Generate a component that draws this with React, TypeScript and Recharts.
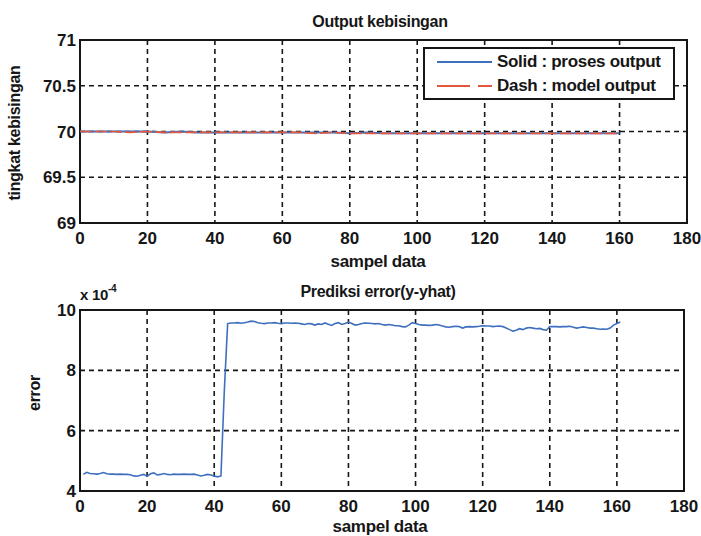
import React from 'react';
import {
  LineChart,
  Line,
  XAxis,
  YAxis,
  CartesianGrid,
  ReferenceArea,
  Legend,
} from 'recharts';

// sample numbers on the x axis
const xTicks = [0, 20, 40, 60, 80, 100, 120, 140, 160, 180];

// top plot: output kebisingan
const outputTicks = [69, 69.5, 70, 70.5, 71];
const outputSamples = [
  0, 5, 10, 15, 20, 25, 30, 35, 40, 45, 50, 55, 60, 65, 70, 75, 80,
  85, 90, 95, 100, 105, 110, 115, 120, 125, 130, 135, 140, 145, 150, 155, 160,
];
const prosesOutput = [
  70.0, 70.0, 70.0, 70.0, 70.0, 69.99, 70.0, 69.99, 69.99, 69.99, 69.99, 69.99, 69.99, 69.99, 69.99, 69.99, 69.98,
  69.99, 69.98, 69.98, 69.98, 69.98, 69.98, 69.98, 69.98, 69.98, 69.98, 69.98, 69.98, 69.98, 69.98, 69.98, 69.98,
];
const modelOutput = [
  70.0, 70.0, 70.0, 69.99, 70.0, 69.99, 69.99, 69.99, 69.99, 69.99, 69.99, 69.99, 69.99, 69.99, 69.98, 69.99, 69.98,
  69.98, 69.98, 69.98, 69.98, 69.98, 69.98, 69.98, 69.98, 69.98, 69.98, 69.98, 69.98, 69.98, 69.98, 69.98, 69.98,
];

// bottom plot: prediksi error (x 10^-4), samples 1..161
const errorTicks = [4, 6, 8, 10];
const errorValues = [
  4.55, 4.62, 4.58, 4.57, 4.56, 4.58, 4.61, 4.57, 4.56, 4.56,
  4.55, 4.56, 4.55, 4.55, 4.54, 4.5, 4.49, 4.52, 4.55, 4.49,
  4.57, 4.6, 4.53, 4.55, 4.58, 4.55, 4.54, 4.56, 4.55, 4.55,
  4.56, 4.55, 4.55, 4.56, 4.53, 4.5, 4.52, 4.55, 4.53, 4.5,
  4.47, 4.5, 7.3, 9.55, 9.57, 9.57, 9.58, 9.56, 9.58, 9.6,
  9.63, 9.62, 9.58, 9.56, 9.55, 9.57, 9.57, 9.58, 9.56, 9.55,
  9.57, 9.57, 9.56, 9.57, 9.56, 9.54, 9.52, 9.55, 9.54, 9.5,
  9.54, 9.52, 9.57, 9.53, 9.49, 9.55, 9.58, 9.52, 9.55, 9.6,
  9.55, 9.5, 9.52, 9.55, 9.57, 9.56, 9.55, 9.54, 9.55, 9.52,
  9.5, 9.52, 9.5, 9.48, 9.48, 9.45, 9.44, 9.5, 9.58, 9.55,
  9.52, 9.5, 9.5, 9.49, 9.5, 9.52, 9.5, 9.47, 9.44, 9.43,
  9.45, 9.46, 9.45, 9.4, 9.44, 9.45, 9.44, 9.45, 9.46, 9.48,
  9.47, 9.47, 9.45, 9.46, 9.47, 9.45, 9.4, 9.35, 9.3, 9.33,
  9.38, 9.35, 9.4, 9.42, 9.4, 9.38, 9.39, 9.35, 9.33, 9.45,
  9.45, 9.45, 9.44, 9.45, 9.45, 9.46, 9.43, 9.4, 9.42, 9.44,
  9.42, 9.4, 9.4, 9.38, 9.36, 9.37, 9.36, 9.4, 9.5, 9.55,
  9.6,
];

const BLUE = '#3f6fbf';
const RED = '#e2583e';
const INK = '#161616';
const FONT = '"Liberation Sans", Arial, sans-serif';

const legendItems = [
  { name: 'Solid : proses output', color: BLUE, dash: undefined },
  { name: 'Dash : model output', color: RED, dash: '33 8' },
];

const outputData = outputSamples.map((s, i) => ({
  sample: s,
  proses: prosesOutput[i],
  model: modelOutput[i],
}));

const errorData = errorValues.map((v, i) => ({ sample: i + 1, error: v }));

const tickStyle = { fill: INK, fontSize: 17, fontWeight: 700, fontFamily: FONT };

const OutputLegend = () => (
  <div
    style={{
      width: 248,
      height: 49,
      border: `2px solid ${INK}`,
      background: '#fff',
      fontFamily: FONT,
      fontSize: 17,
      fontWeight: 700,
      color: INK,
    }}
  >
    {legendItems.map((item) => (
      <div key={item.name} style={{ display: 'flex', alignItems: 'center', height: 26, marginTop: item.dash ? -2 : 0 }}>
        <svg width={72} height={20} style={{ flex: 'none' }}>
          <line x1={12} x2={67} y1={10} y2={10} stroke={item.color} strokeWidth={2} strokeDasharray={item.dash} />
        </svg>
        <span style={{ whiteSpace: 'nowrap', letterSpacing: -0.3 }}>{item.name}</span>
      </div>
    ))}
  </div>
);

const textBase: React.CSSProperties = {
  position: 'absolute',
  fontFamily: FONT,
  fontWeight: 700,
  color: INK,
  whiteSpace: 'nowrap',
  transform: 'translate(-50%, -50%)',
  letterSpacing: -0.3,
};

export default function App() {
  return (
    <div style={{ position: 'absolute', left: 0, top: 0, width: 701, height: 536, background: '#fff' }}>
      <div style={{ position: 'absolute', left: 0, top: 0 }}>
        <LineChart width={701} height={270} data={outputData} margin={{ top: 40, right: 14, bottom: 0, left: 0 }}>
          <CartesianGrid stroke={INK} strokeWidth={1.6} strokeDasharray="5 4" />
          <XAxis
            dataKey="sample"
            type="number"
            domain={[0, 180]}
            ticks={xTicks}
            height={47}
            axisLine={false}
            tickLine={false}
            tickSize={0}
            tickMargin={9}
            tick={tickStyle}
            interval={0}
          />
          <YAxis
            type="number"
            domain={[69, 71]}
            ticks={outputTicks}
            width={80}
            axisLine={false}
            tickLine={false}
            tickSize={0}
            tickMargin={4}
            tick={tickStyle}
            interval={0}
          />
          <Line
            dataKey="proses"
            name="Solid : proses output"
            stroke={BLUE}
            strokeWidth={2}
            dot={false}
            isAnimationActive={false}
          />
          <Line
            dataKey="model"
            name="Dash : model output"
            stroke={RED}
            strokeWidth={1.6}
            strokeDasharray="12 3"
            dot={false}
            isAnimationActive={false}
          />
          <ReferenceArea x1={0} x2={180} y1={69} y2={71} fill="none" stroke={INK} strokeWidth={2} ifOverflow="visible" />
          <Legend
            layout="vertical"
            align="center"
            verticalAlign="middle"
            content={() => <OutputLegend />}
            wrapperStyle={{ left: 423, top: 47, width: 252, height: 53 }}
          />
        </LineChart>
      </div>

      <div style={{ position: 'absolute', left: 0, top: 270 }}>
        <LineChart width={701} height={266} data={errorData} margin={{ top: 40, right: 17, bottom: 0, left: 0 }}>
          <CartesianGrid stroke={INK} strokeWidth={1.6} strokeDasharray="5 4" />
          <XAxis
            dataKey="sample"
            type="number"
            domain={[0, 180]}
            ticks={xTicks}
            height={45}
            axisLine={false}
            tickLine={false}
            tickSize={0}
            tickMargin={9}
            tick={tickStyle}
            interval={0}
          />
          <YAxis
            type="number"
            domain={[4, 10]}
            ticks={errorTicks}
            width={80}
            axisLine={false}
            tickLine={false}
            tickSize={0}
            tickMargin={4}
            tick={tickStyle}
            interval={0}
          />
          <Line dataKey="error" stroke={BLUE} strokeWidth={1.6} dot={false} isAnimationActive={false} />
          <ReferenceArea x1={0} x2={180} y1={4} y2={10} fill="none" stroke={INK} strokeWidth={2} ifOverflow="visible" />
        </LineChart>
      </div>

      {/* titles and axis labels */}
      <div style={{ ...textBase, left: 380, top: 22, fontSize: 16 }}>Output kebisingan</div>
      <div style={{ ...textBase, left: 378, top: 262, fontSize: 17 }}>sampel data</div>
      <div style={{ ...textBase, left: 15, top: 133, fontSize: 16, transform: 'translate(-50%, -50%) rotate(-90deg)' }}>
        tingkat kebisingan
      </div>

      <div style={{ ...textBase, left: 378, top: 292, fontSize: 16 }}>Prediksi error(y-yhat)</div>
      <div style={{ ...textBase, left: 80, top: 294, fontSize: 15, transform: 'translate(0, -50%)' }}>
        x 10<sup style={{ fontSize: 10, position: 'relative', top: -2 }}>-4</sup>
      </div>
      <div style={{ ...textBase, left: 380, top: 527, fontSize: 17 }}>sampel data</div>
      <div style={{ ...textBase, left: 35, top: 393, fontSize: 16, transform: 'translate(-50%, -50%) rotate(-90deg)' }}>
        error
      </div>
    </div>
  );
}
